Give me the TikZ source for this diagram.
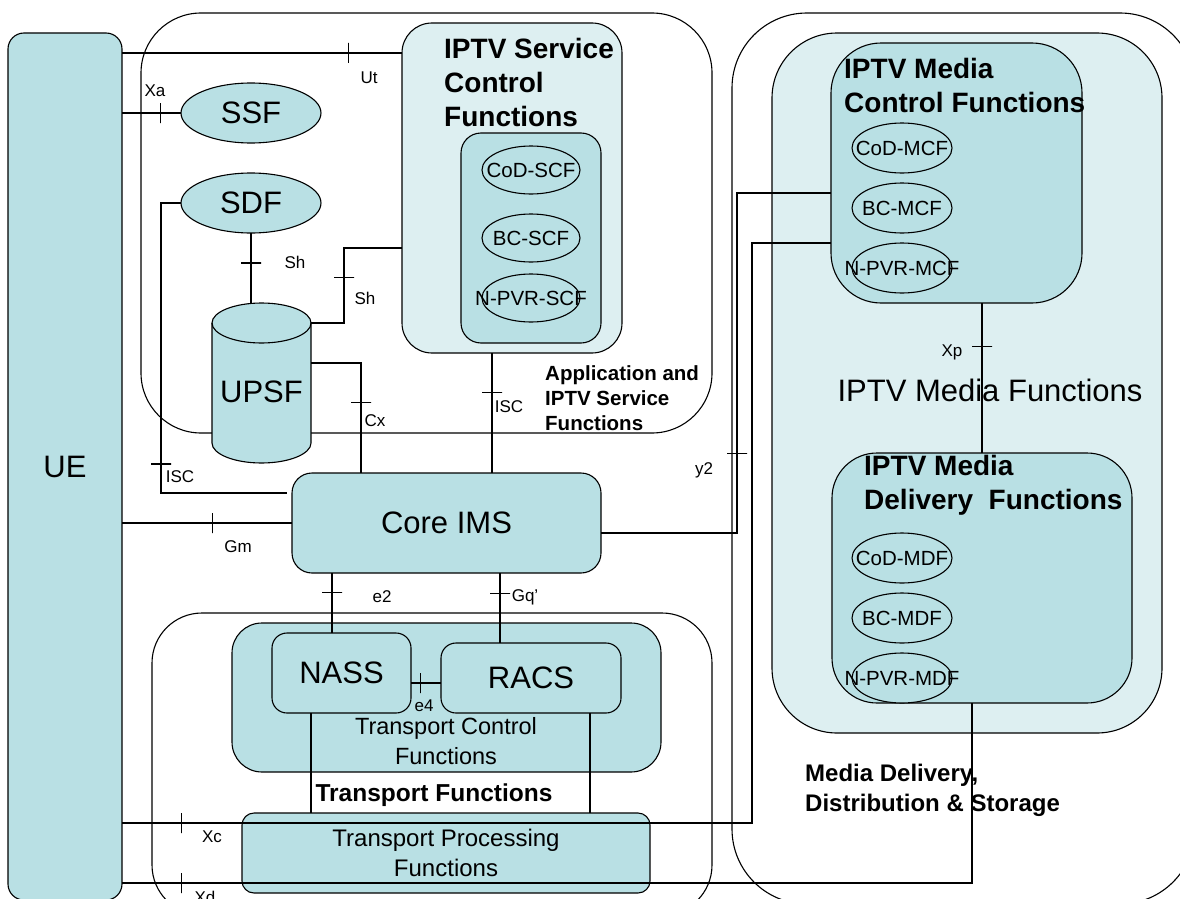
\documentclass[tikz,border=0pt]{standalone}
\usepackage{fontspec}
\setmainfont{Liberation Sans}
\usetikzlibrary{shapes.geometric}
\definecolor{tealf}{RGB}{185,224,228}
\definecolor{lightf}{RGB}{221,239,241}
\tikzset{
 base/.style={draw, line width=1.1pt, inner sep=0pt, outer sep=0pt},
 tbox/.style={base, fill=tealf},
 lbox/.style={base, fill=lightf},
 obox/.style={base},
 sub/.style={base, ellipse, fill=tealf, minimum width=98pt, minimum height=48pt},
 subm/.style={sub, minimum width=100pt, minimum height=50pt},
 subtxt/.style={font=\fontsize{20.5}{24}\selectfont, inner sep=0pt},
 big/.style={font=\fontsize{31}{36}\selectfont},
 conn/.style={line width=1.1pt},
 tickV/.style={draw, line width=1.1pt, inner sep=0pt, outer sep=0pt, minimum width=0pt, minimum height=20pt},
 tickH/.style={draw, line width=1.1pt, inner sep=0pt, outer sep=0pt, minimum width=20pt, minimum height=0pt},
 lab/.style={font=\fontsize{17}{20}\selectfont, inner sep=0pt},
 btitle/.style={font=\bfseries\fontsize{28}{34}\selectfont, align=left, inner sep=0pt, anchor=west},
}
\begin{document}
\begin{tikzpicture}[x=1pt,y=-1pt]
\useasboundingbox (0,0) rectangle (1180,899);
% outer groups
\node[obox, rounded corners=60pt, minimum width=571pt, minimum height=420pt] (app) at (426.5,223) {};
\node[obox, rounded corners=75pt, minimum width=463pt, minimum height=891pt] (mds) at (963.5,458.5) {};
\node[obox, rounded corners=50pt, minimum width=560pt, minimum height=302pt] (tf) at (432,764) {};
\node[lbox, rounded corners=65pt, minimum width=390pt, minimum height=700pt] (imf) at (967,383) {};
% UE
\node[tbox, rounded corners=16pt, minimum width=114pt, minimum height=867pt, big] (ue) at (65,466.5) {UE};
% IPTV service control
\node[lbox, rounded corners=30pt, minimum width=220pt, minimum height=330pt] (scf) at (512,188) {};
\node[btitle] (scft) at (444,82) {IPTV Service\\Control\\Functions};
\node[tbox, rounded corners=20pt, minimum width=140pt, minimum height=210pt] (scfin) at (531,238) {};
\node[sub, label={[subtxt]center:CoD-SCF}] (codscf) at (531,170) {};
\node[sub, label={[subtxt]center:BC-SCF}] (bcscf) at (531,238) {};
\node[sub, label={[subtxt]center:N-PVR-SCF}] (npvrscf) at (531,298) {};
% SSF SDF
\node[tbox, ellipse, minimum width=140pt, minimum height=60pt, big] (ssf) at (251,113) {SSF};
\node[tbox, ellipse, minimum width=140pt, minimum height=60pt, big] (sdf) at (251,203) {SDF};
% UPSF cylinder
\path[base, fill=tealf] (212,323) -- (212,443) arc[start angle=180,end angle=360,x radius=49.5pt,y radius=20pt] -- (311,323) arc[start angle=0,end angle=180,x radius=49.5pt,y radius=20pt] -- cycle;
\draw[base] (212,323) arc[start angle=180,end angle=360,x radius=49.5pt,y radius=20pt];
\node[minimum width=99pt, minimum height=160pt, inner sep=0pt, label={[big, yshift=-9pt]center:UPSF}] (upsf) at (261.5,383) {};
% Application text
\node[font=\bfseries\fontsize{20.5}{25}\selectfont, align=left, inner sep=0pt, anchor=west] (appt) at (545,398) {Application and\\IPTV Service\\Functions};
% Core IMS
\node[tbox, rounded corners=20pt, minimum width=309pt, minimum height=100pt, big] (ims) at (446.5,523) {Core IMS};
% Transport
\node[tbox, rounded corners=30pt, minimum width=429pt, minimum height=149pt] (tcf) at (446.5,697.5) {};
\node[tbox, rounded corners=15pt, minimum width=139pt, minimum height=80pt, big] (nass) at (341.5,673) {NASS};
\node[tbox, rounded corners=15pt, minimum width=180pt, minimum height=70pt, big] (racs) at (531,678) {RACS};
\node[font=\fontsize{23.5}{30}\selectfont, align=center, inner sep=0pt] (tcft) at (446,741) {Transport Control\\Functions};
\node[font=\bfseries\fontsize{24.5}{30}\selectfont, inner sep=0pt] (tft) at (434,795) {Transport Functions};
\node[tbox, rounded corners=12pt, minimum width=408pt, minimum height=80pt, font=\fontsize{24}{30}\selectfont, align=center] (tpf) at (446,853) {Transport Processing\\Functions};
% Media
\node[font=\fontsize{31}{36}\selectfont, inner sep=0pt] (imft) at (990,390) {IPTV Media Functions};
\node[tbox, rounded corners=50pt, minimum width=251pt, minimum height=260pt] (mcf) at (956.5,173) {};
\node[btitle] (mcft) at (844,85) {IPTV Media\\Control Functions};
\node[subm, label={[subtxt]center:CoD-MCF}] (codmcf) at (902,148) {};
\node[subm, label={[subtxt]center:BC-MCF}] (bcmcf) at (902,208) {};
\node[subm, label={[subtxt]center:N-PVR-MCF}] (npvrmcf) at (902,268) {};
\node[tbox, rounded corners=45pt, minimum width=300pt, minimum height=250pt] (mdf) at (982,578) {};
\node[btitle] (mdft) at (864,485) {IPTV Media\\Delivery~~Functions};
\node[subm, label={[subtxt]center:CoD-MDF}] (codmdf) at (902,558) {};
\node[subm, label={[subtxt]center:BC-MDF}] (bcmdf) at (902,618) {};
\node[subm, label={[subtxt]center:N-PVR-MDF}] (npvrmdf) at (902,678) {};
\node[font=\bfseries\fontsize{24}{30}\selectfont, align=left, inner sep=0pt, anchor=west] (mdst) at (805,790) {Media Delivery,\\Distribution \& Storage};
% connectors
\coordinate (iscend) at (287,493);
\draw[conn] (ue.east |- 0,53) -- node[pos=.81,tickV]{} (scf.west |- 0,53);
\draw[conn] (ue.east |- ssf.west) -- node[pos=.66,tickV]{} (ssf.west);
\draw[conn] (sdf.south) -- node[pos=.43,tickH]{} (sdf.south |- upsf.north);
\draw[conn] (upsf.east |- 0,323) -- (344,323) -- node[pos=.61,tickH]{} (344,248) -- (scf.west |- 0,248);
\draw[conn] (upsf.east |- 0,363) -- (361,363) -- node[pos=.36,tickH]{} (ims.north -| 361,0);
\draw[conn] (scf.south -| 492,0) -- node[pos=.33,tickH]{} (ims.north -| 492,0);
\draw[conn] (sdf.west) -- (161,203) -- node[pos=.9,tickH]{} (161,493) -- (iscend);
\draw[conn] (ue.east |- ims.west) -- node[pos=.53,tickV]{} (ims.west);
\draw[conn] (ims.south -| 332,0) -- node[pos=.33,tickH]{} (nass.north -| 332,0);
\draw[conn] (ims.south -| 500,0) -- node[pos=.29,tickH]{} (racs.north -| 500,0);
\draw[conn] (nass.east |- 0,683) -- node[pos=.33,tickV]{} (racs.west |- 0,683);
\draw[conn] (nass.south -| 311,0) -- (tpf.north -| 311,0);
\draw[conn] (racs.south -| 590,0) -- (tpf.north -| 590,0);
\draw[conn] (ue.east |- 0,823) -- node[pos=.095,tickV]{} (752,823) -- (752,243) -- (mcf.west |- 0,243);
\draw[conn] (ue.east |- 0,883) -- node[pos=.07,tickV]{} (972,883) -- (mdf.south -| 972,0);
\draw[conn] (ims.east |- 0,533) -- (737,533) -- node[pos=.235,tickH]{} (737,193) -- (mcf.west |- 0,193);
\draw[conn] (mcf.south -| 982,0) -- node[pos=.29,tickH]{} (mdf.north -| 982,0);
% labels
\node[lab] (lut) at (369,78) {Ut};
\node[lab] (lxa) at (155,91) {Xa};
\node[lab] (lsh1) at (295,262) {Sh};
\node[lab] (lsh2) at (365,298) {Sh};
\node[lab] (lcx) at (375,421) {Cx};
\node[lab] (lisc1) at (509,407) {ISC};
\node[lab] (lisc2) at (180,477) {ISC};
\node[lab] (lgm) at (238,547) {Gm};
\node[lab] (le2) at (382,597) {e2};
\node[lab] (lgq) at (525,597) {Gq'};
\node[lab] (le4) at (424,706) {e4};
\node[lab] (lxc) at (212,837) {Xc};
\node[lab] (lxd) at (205,897) {Xd};
\node[lab] (ly2) at (704,470) {y2};
\node[lab] (lxp) at (952,352) {Xp};
\end{tikzpicture}
\end{document}
